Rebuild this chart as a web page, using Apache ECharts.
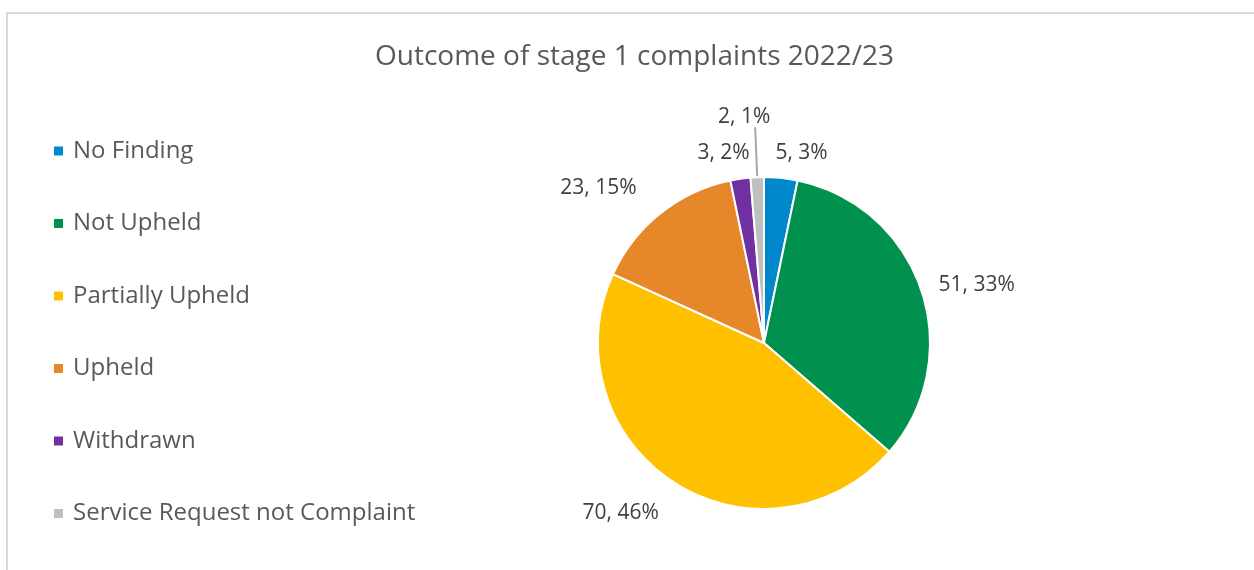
<!DOCTYPE html>
<html>
<head>
<meta charset="utf-8">
<script src="https://cdn.jsdelivr.net/npm/echarts@6/dist/echarts.min.js"></script>
<style>
  html, body { margin: 0; padding: 0; background: #fff; }
  #frame { position: absolute; left: 6px; top: 12px; width: 1248px; height: 558px;
           border-top: 2px solid #d9d9d9; border-left: 2px solid #d9d9d9; }
  #chart { position: absolute; left: 0; top: 0; width: 1254px; height: 570px; }
</style>
</head>
<body>
<div id="frame"></div>
<div id="chart"></div>
<script>
// outcome categories and counts
const categories = ["No Finding", "Not Upheld", "Partially Upheld", "Upheld", "Withdrawn", "Service Request not Complaint"];
const counts = [5, 51, 70, 23, 3, 2];
const colors = ["#0088cc", "#00914e", "#ffc000", "#e6882a", "#7030a0", "#bfbfbf"];
// how far each label sits out from the slice edge, and a small sideways nudge
const labelOffsets = [25, 14, 36, 32, 26, 50];
const labelNudge = [-12, 0, 8, 0, 17, -11];

const chart = echarts.init(document.getElementById("chart"));

const pieData = categories.map((name, i) => {
  const item = {
    name: name,
    value: counts[i],
    itemStyle: { color: colors[i] },
    labelLine: { show: false, length: labelOffsets[i], length2: 0 }
  };
  if (i === 5) {
    // small grey slice: label pulled up with a leader line
    item.labelLine = { show: true, length: labelOffsets[i], length2: 0, lineStyle: { color: "#a6a6a6", width: 2 } };
  }
  return item;
});

chart.setOption({
  animation: false,
  title: {
    text: "Outcome of stage 1 complaints 2022/23",
    left: 370,
    top: 38,
    textStyle: { fontFamily: "Open Sans", fontSize: 28, fontWeight: "normal", color: "#595959" }
  },
  legend: {
    orient: "vertical",
    left: 47,
    top: 134,
    icon: "rect",
    itemWidth: 11,
    itemHeight: 11,
    itemGap: 48.5,
    data: categories,
    textStyle: { fontFamily: "Open Sans", fontSize: 24, color: "#595959", padding: [0, 0, 0, 4] }
  },
  series: [
    {
      type: "pie",
      center: [764, 343],
      radius: 166,
      startAngle: 90,
      clockwise: true,
      percentPrecision: 0,
      avoidLabelOverlap: true,
      itemStyle: { borderColor: "#fff", borderWidth: 2 },
      label: {
        show: true,
        position: "outside",
        formatter: "{c}, {d}%",
        fontFamily: "Open Sans",
        fontSize: 21,
        color: "#404040",
        distanceToLabelLine: 4
      },
      labelLayout: function (params) {
        const i = params.dataIndex;
        if (i === 5) {
          // centre the grey label above its leader line
          return { dx: params.labelRect.width / 2 + 4 + labelNudge[i], dy: -(params.labelRect.height / 2) };
        }
        return { dx: labelNudge[i] };
      },
      emphasis: { disabled: true },
      data: pieData
    }
  ]
});
</script>
</body>
</html>
